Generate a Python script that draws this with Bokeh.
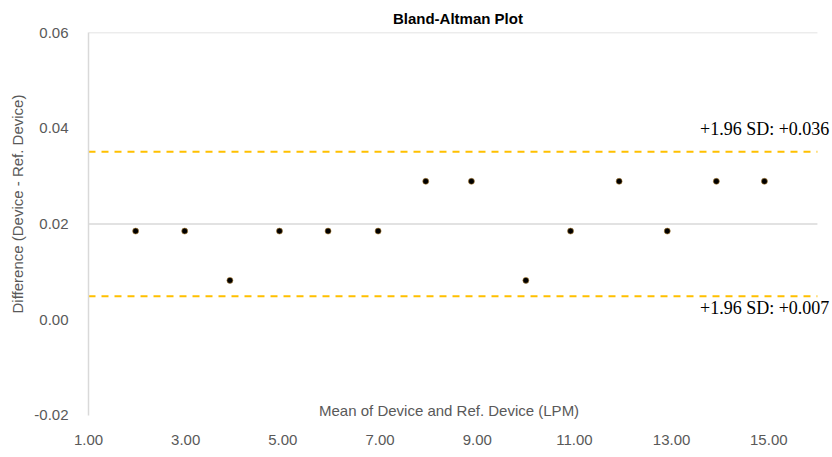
from bokeh.plotting import figure
from bokeh.models import Label, FixedTicker, Range1d, Title, CustomJSTickFormatter
from bokeh.embed import file_html
from bokeh.resources import INLINE

# Data
mean_lpm = [1.97, 2.98, 3.91, 4.93, 5.93, 6.96, 7.94, 8.88, 10.0, 10.92, 11.92, 12.91, 13.92, 14.91]
diff = [0.0185, 0.0185, 0.0082, 0.0185, 0.0185, 0.0185, 0.0289, 0.0289, 0.0082, 0.0185, 0.0289, 0.0185, 0.0289, 0.0289]
upper_loa = 0.0351
lower_loa = 0.0049
upper_text = "+1.96 SD: +0.036"
lower_text = "+1.96 SD: +0.007"
x_ticks = [1, 3, 5, 7, 9, 11, 13, 15]
y_ticks = [-0.02, 0.0, 0.02, 0.04, 0.06]
y_grid = [0.02, 0.06]
x_min, x_max = 1, 16

FONT = "Liberation Sans"
GRAY = "#595959"

p = figure(width=832, height=452, output_backend="svg", toolbar_location=None,
           x_range=Range1d(1, 16.29), y_range=Range1d(-0.0215, 0.06),
           min_border_left=87, min_border_right=1, min_border_top=32, min_border_bottom=30)
p.outline_line_color = None
p.background_fill_color = "white"
p.border_fill_color = "white"

# title
p.title.text = "Bland-Altman  Plot"
p.title.align = "center"
p.title.text_font = FONT
p.title.text_font_size = "15px"
p.title.text_font_style = "bold"
p.title.text_color = "black"
p.title.standoff = 12

# axes
p.xaxis.ticker = FixedTicker(ticks=x_ticks)
p.yaxis.ticker = FixedTicker(ticks=y_ticks)
p.yaxis.bounds = (-0.02, 0.06)
p.xaxis.formatter = CustomJSTickFormatter(code="return tick.toFixed(2);")
p.yaxis.formatter = CustomJSTickFormatter(code="return tick.toFixed(2);")
for ax in (p.xaxis, p.yaxis):
    ax.major_tick_line_color = None
    ax.minor_tick_line_color = None
    ax.major_label_text_font = FONT
    ax.major_label_text_font_size = "15px"
    ax.major_label_text_color = GRAY
p.xaxis.axis_line_color = None
p.yaxis.axis_line_color = "#d9d9d9"
p.yaxis.axis_line_width = 1.5
p.xaxis.major_label_standoff = 6
p.yaxis.major_label_standoff = 14

ytitle = Title(text="Difference  (Device - Ref. Device)", align="left", offset=109,
               text_font=FONT, text_font_size="15px", text_font_style="normal",
               text_color=GRAY, standoff=12)
p.add_layout(ytitle, "left")

p.xgrid.grid_line_color = None
p.ygrid.grid_line_color = None

# horizontal gridlines over the data span
p.segment(x0=[x_min] * len(y_grid), x1=[x_max] * len(y_grid), y0=y_grid, y1=y_grid,
          line_color="#d9d9d9", line_width=1.5)

# limits of agreement
p.segment(x0=[x_min, x_min], x1=[x_max, x_max], y0=[upper_loa, lower_loa],
          y1=[upper_loa, lower_loa], line_color="#FFC000", line_width=2, line_dash="7 6")

# points
p.scatter(mean_lpm, diff, size=6, fill_color="black", line_color="#b08030", line_width=0.6)

# texts
p.add_layout(Label(x=8.42, y=-0.019, text="Mean of Device and Ref. Device (LPM)",
                   text_font=FONT, text_font_size="15px", text_color=GRAY,
                   text_align="center", text_baseline="middle"))
p.add_layout(Label(x=16.245, y=0.0399, text=upper_text, text_font="Liberation Serif",
                   text_font_size="18px", text_color="black",
                   text_align="right", text_baseline="middle"))
p.add_layout(Label(x=16.245, y=0.00253, text=lower_text, text_font="Liberation Serif",
                   text_font_size="18px", text_color="black",
                   text_align="right", text_baseline="middle"))

open("out.html", "w").write(file_html(p, INLINE))
